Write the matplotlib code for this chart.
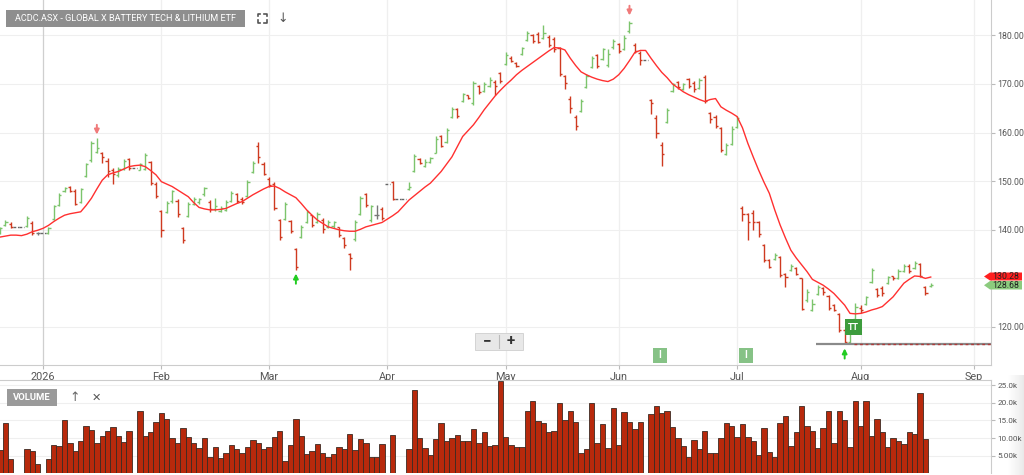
import numpy as np
import pandas as pd
import matplotlib
matplotlib.use("Agg")
import matplotlib.pyplot as plt
from matplotlib.patches import Polygon, Rectangle

plt.rcParams["font.family"] = ["Roboto", "DejaVu Sans"]

#########################################
### Data
#########################################
dates = pd.bdate_range("2025-12-22", "2026-08-20")  # weekdays, holidays have no volume

opens = [139.4, 140.9, 141.2, 140.6, 140.6, 140.8, 141.4, 139.3, 139.3, 139.4,
         142.3, 145.0, 148.0, 148.9, 148.0, 145.8, 151.0, 154.3, 156.0, 155.8,
         154.2, 152.2, 151.2, 152.5, 154.5, 152.7, 152.4, 152.6, 154.0, 149.4,
         143.8, 143.6, 145.9, 146.0, 140.4, 142.8, 145.4, 145.7, 147.3, 145.8,
         144.2, 143.9, 144.0, 146.0, 147.4, 146.3, 147.0, 151.9, 157.3, 153.6,
         150.5, 149.5, 142.0, 142.3, 141.8, 136.0, 138.6, 141.6, 143.0, 141.6,
         142.0, 140.6, 140.7, 140.5, 138.3, 135.0, 138.2, 143.2, 147.3, 142.0,
         143.0, 144.3, 149.4, 149.8, 146.3, 146.3, 148.3, 152.0, 154.6, 153.2,
         153.9, 155.9, 159.3, 158.0, 163.3, 164.8, 166.4, 167.7, 166.0, 169.5,
         168.6, 169.6, 170.4, 172.3, 174.1, 175.4, 174.3, 176.1, 179.0, 180.0,
         180.3, 179.4, 179.6, 179.2, 177.5, 171.6, 167.0, 163.2, 164.5, 169.4,
         173.4, 176.0, 175.1, 174.0, 177.6, 178.2, 177.2, 180.8, 178.1, 176.4,
         175.0, 166.7, 163.0, 157.5, 162.2, 168.5, 170.5, 169.0, 171.0, 170.2,
         169.2, 171.5, 164.0, 163.2, 160.9, 155.6, 157.6, 161.1, 144.4, 143.3,
         143.5, 141.5, 136.8, 133.7, 134.0, 134.3, 130.9, 131.8, 132.1, 130.0,
         125.5, 123.5, 126.8, 128.0, 126.4, 124.5, 122.7, 119.3, 117.0, 121.6,
         124.0, 124.7, 129.3, 127.9, 128.1, 129.0, 130.4, 130.1, 131.5, 132.6,
         132.2, 133.0, 128.2, 128.4]
highs = [140.6, 142.0, 141.5, 140.6, 140.6, 142.8, 141.8, 139.6, 139.3, 140.6,
         145.2, 147.5, 148.9, 149.1, 148.3, 148.7, 153.8, 158.2, 158.8, 156.1,
         154.8, 152.7, 153.0, 154.6, 154.8, 152.7, 153.8, 155.9, 154.2, 149.8,
         144.0, 146.0, 148.2, 146.3, 140.6, 145.8, 146.8, 146.6, 148.9, 146.1,
         146.5, 144.8, 146.1, 147.9, 147.6, 146.8, 150.3, 154.2, 158.1, 153.9,
         150.9, 149.8, 142.3, 145.8, 142.0, 136.3, 141.0, 144.1, 143.1, 143.7,
         142.4, 142.0, 141.9, 140.6, 138.6, 135.2, 142.0, 146.9, 147.6, 145.2,
         145.1, 144.7, 149.4, 150.0, 146.3, 146.3, 149.9, 155.5, 154.8, 154.6,
         155.0, 159.2, 159.5, 161.0, 165.2, 165.1, 168.2, 167.8, 170.7, 169.8,
         170.4, 171.5, 170.8, 172.5, 176.5, 175.7, 174.6, 177.7, 180.8, 180.2,
         180.6, 182.2, 180.0, 179.7, 177.7, 171.8, 167.5, 163.6, 166.9, 172.0,
         175.7, 176.2, 177.5, 177.2, 179.2, 178.5, 180.0, 183.0, 178.5, 176.7,
         175.0, 167.0, 163.6, 158.1, 165.0, 170.3, 170.7, 170.3, 171.3, 170.7,
         171.3, 171.9, 164.3, 163.6, 161.2, 157.9, 161.3, 163.4, 144.9, 143.5,
         144.0, 141.8, 137.0, 133.9, 135.2, 134.6, 131.1, 133.0, 132.3, 130.1,
         127.8, 125.8, 128.6, 128.3, 126.6, 124.7, 122.9, 119.5, 120.0, 125.0,
         124.5, 126.4, 132.2, 128.0, 128.4, 130.5, 130.5, 132.0, 132.9, 132.9,
         133.5, 133.2, 128.4, 129.0]
lows = [139.2, 140.7, 140.3, 140.6, 140.6, 140.6, 138.9, 139.0, 139.3, 139.2,
        142.0, 144.8, 147.7, 147.8, 145.0, 145.6, 150.8, 154.0, 155.8, 153.7,
        150.9, 149.4, 150.9, 152.3, 152.3, 152.7, 152.2, 152.3, 149.2, 146.5,
        138.5, 143.4, 145.6, 142.6, 137.3, 142.6, 145.2, 145.3, 147.0, 143.7,
        143.8, 143.6, 143.8, 145.8, 145.5, 145.3, 146.8, 151.7, 153.7, 151.3,
        148.8, 144.1, 138.0, 142.0, 139.3, 131.7, 138.4, 141.3, 140.6, 141.3,
        139.3, 140.3, 140.3, 138.5, 136.3, 131.7, 137.6, 143.0, 144.7, 141.6,
        142.2, 142.0, 149.4, 146.1, 146.3, 146.3, 148.1, 151.9, 153.5, 152.9,
        153.7, 155.7, 157.0, 157.8, 163.1, 163.0, 166.2, 167.0, 165.7, 168.0,
        168.4, 169.4, 167.8, 170.2, 173.9, 174.5, 173.4, 175.9, 178.8, 178.4,
        178.4, 179.2, 177.6, 176.6, 171.6, 169.0, 164.0, 160.5, 164.2, 169.2,
        173.2, 173.3, 174.9, 173.5, 177.3, 176.4, 177.0, 180.5, 176.3, 174.0,
        175.0, 163.8, 158.9, 153.1, 162.0, 168.3, 168.9, 168.8, 169.2, 168.4,
        169.0, 166.1, 161.9, 160.9, 156.1, 155.3, 157.4, 160.9, 141.8, 137.9,
        140.0, 138.5, 133.4, 132.1, 133.8, 130.3, 128.2, 131.6, 130.7, 123.5,
        125.2, 123.2, 126.6, 126.6, 123.5, 123.2, 119.0, 116.4, 116.7, 121.4,
        122.8, 124.5, 129.1, 126.2, 126.3, 128.9, 129.7, 129.9, 131.3, 131.1,
        132.0, 130.2, 126.6, 128.3]
closes = [140.4, 141.7, 140.6, 140.6, 140.6, 142.4, 139.3, 139.3, 139.3, 140.4,
          144.9, 147.2, 148.6, 148.0, 145.4, 148.4, 153.5, 157.8, 156.8, 155.0,
          152.0, 151.5, 152.6, 154.2, 152.7, 152.7, 153.5, 155.4, 149.6, 147.0,
          140.0, 145.6, 147.9, 143.2, 138.0, 145.4, 146.4, 146.3, 148.6, 144.3,
          144.8, 144.5, 145.8, 147.5, 145.9, 145.7, 149.8, 153.8, 155.0, 151.5,
          149.3, 144.5, 138.6, 145.3, 139.8, 132.3, 140.6, 143.6, 141.0, 143.3,
          140.1, 141.6, 141.5, 138.9, 136.8, 134.2, 141.6, 146.5, 145.2, 144.8,
          143.0, 142.5, 149.4, 146.3, 146.3, 146.3, 148.9, 155.2, 153.8, 154.0,
          154.7, 158.7, 157.3, 160.6, 164.8, 163.5, 167.9, 167.2, 170.3, 168.3,
          170.0, 170.9, 169.5, 170.6, 176.0, 174.8, 173.8, 177.4, 180.4, 178.8,
          178.6, 180.5, 178.0, 177.3, 172.0, 170.2, 165.0, 161.3, 166.5, 171.6,
          175.3, 173.7, 177.1, 176.2, 178.8, 176.8, 179.5, 182.5, 176.8, 175.0,
          175.0, 166.0, 160.0, 155.6, 164.7, 169.9, 169.3, 170.0, 169.6, 168.9,
          170.8, 166.6, 162.7, 161.4, 156.5, 157.4, 160.8, 162.9, 143.2, 141.6,
          141.5, 139.2, 133.7, 132.4, 134.9, 130.8, 130.3, 132.6, 131.0, 123.8,
          127.3, 124.8, 128.3, 127.2, 124.0, 123.5, 119.3, 117.0, 119.6, 124.2,
          123.4, 126.1, 131.8, 126.6, 126.9, 130.2, 130.0, 131.6, 132.5, 131.6,
          133.1, 130.5, 127.0, 128.68]
volumes = [6600, 14200, 4000, 0, 0, 6800, 6300, 2600, 0, 4000,
           8000, 7700, 15200, 8500, 6300, 9300, 13300, 12300, 8500, 10600,
           12100, 13100, 10600, 8900, 11900, 0, 17600, 10600, 11700, 14600,
           17000, 15300, 9900, 8700, 13000, 10200, 8700, 7100, 10100, 4500,
           7600, 4400, 5700, 7900, 6800, 5700, 7600, 9500, 8500, 6800,
           7600, 10200, 12100, 3600, 8000, 15300, 10700, 5600, 6300, 8200,
           5700, 4500, 5400, 7400, 7000, 11100, 6600, 9700, 8500, 4500,
           4700, 8300, 0, 10800, 0, 0, 6800, 23700, 10100, 7200,
           5100, 9700, 14400, 9200, 10000, 10800, 9200, 9300, 12500, 8500,
           11600, 7700, 8000, 26300, 10400, 8100, 7400, 7400, 17800, 20600,
           14800, 14200, 11600, 11900, 19900, 15200, 17600, 14500, 5900, 6800,
           20100, 8500, 14000, 7300, 18500, 8000, 17400, 14500, 12600, 14500,
           0, 16900, 19100, 17200, 17600, 13100, 10100, 7800, 4500, 9500,
           6800, 11900, 5900, 5700, 10000, 14200, 13500, 10200, 13900, 10200,
           9300, 5100, 12800, 6000, 4500, 14200, 16200, 7800, 11600, 19000,
           13500, 12100, 7300, 12800, 17600, 8500, 17800, 15000, 7600, 20600,
           13400, 20500, 10600, 15500, 11700, 7400, 9900, 9200, 8200, 11700,
           11200, 22900, 9700, 200]
ma = [138.5, 138.7, 138.9, 138.9, 138.8, 139.1, 139.6, 139.9, 140.3, 140.9,
      141.7, 142.4, 143.0, 143.3, 143.5, 143.7, 145.0, 146.5, 148.4, 150.2,
      151.3, 151.7, 152.0, 152.5, 153.0, 153.2, 153.3, 153.0, 152.2, 151.3,
      149.9, 149.4, 148.9, 148.2, 147.5, 146.8, 145.6, 144.6, 144.3, 144.1,
      144.1, 144.2, 144.4, 144.9, 145.4, 145.8, 146.5, 147.2, 147.8, 148.4,
      148.9, 149.0, 148.5, 147.8, 147.2, 146.6, 145.4, 144.1, 143.0, 142.0,
      141.3, 140.6, 140.3, 140.0, 139.8, 139.7, 139.7, 140.1, 140.6, 140.9,
      141.2, 141.5, 142.2, 142.9, 143.7, 144.9, 146.1, 147.0, 147.9, 148.8,
      149.6, 150.8, 152.0, 153.5, 155.0, 157.1, 159.2, 160.4, 161.6, 163.1,
      164.7, 166.1, 167.5, 168.7, 169.8, 170.8, 171.9, 172.8, 173.6, 174.4,
      175.2, 176.0, 176.8, 177.5, 177.4, 177.0, 175.3, 173.8, 172.5, 171.9,
      171.4, 171.0, 170.7, 170.5, 171.0, 171.9, 173.2, 174.8, 176.5, 176.9,
      176.9, 175.3, 173.8, 172.4, 171.3, 170.0, 169.2, 168.4, 167.8, 167.3,
      166.8, 166.4, 166.8, 167.0, 165.3, 164.6, 164.0, 163.3, 161.0, 157.8,
      155.0, 152.3, 149.8, 147.5, 144.1, 141.0, 138.3, 135.8, 134.2, 132.8,
      131.4, 129.8, 129.2, 128.6, 127.8, 126.9, 125.7, 124.5, 122.8, 122.7,
      122.8, 123.1, 123.5, 123.8, 124.2, 125.2, 126.2, 127.6, 129.0, 129.8,
      130.5, 130.4, 130.0, 130.28]
support = 116.4
month_labels = ["2026", "Feb", "Mar", "Apr", "May", "Jun", "Jul", "Aug", "Sep"]
price_ticks = [120, 130, 140, 150, 160, 170, 180]
vol_ticks = [5000, 10000, 15000, 20000, 25000]
vol_tick_labels = ["5.00k", "10.00k", "15.0k", "20.0k", "25.0k"]

GREEN = "#7cc46c"
RED = "#cf3a20"
GREY = "#777777"

#########################################
### Figure layout (pixel helpers)
#########################################
W, H = 1024, 475
fig = plt.figure(figsize=(W / 100, H / 100), dpi=100)


def fx(px):
    return px / W


def fy(py):
    return 1 - py / H


ax = fig.add_axes([0, fy(365), 991 / W, 365 / H])
axv = fig.add_axes([0, fy(473.3), 991 / W, (473.3 - 380) / H])

idx = np.arange(len(dates))
o, h, l, c = (np.array(a) for a in (opens, highs, lows, closes))
vol = np.array(volumes)
x_max = 991 / 5.38

# month starts (first weekday of each month)
ext = pd.bdate_range(dates[0], "2026-09-04")
first = [i for i in range(1, len(ext)) if ext[i].month != ext[i - 1].month]

#########################################
### Price panel
#########################################
ax.set_xlim(0, x_max)
ax.set_ylim(112.18, 187.28)
for p in price_ticks:
    ax.axhline(p, color="#efefef", lw=0.8, zorder=0)
for k, m in enumerate(first):
    ax.axvline(m, color="#cfcfcf" if k == 0 else "#efefef", lw=0.9, zorder=0)

closed = vol == 0
up = (c > o) & ~closed
down = (c < o) & ~closed
flat = (c == o) & ~closed
tw = 0.4
for mask, col in [(up, GREEN), (down, RED), (flat, GREY)]:
    ax.vlines(idx[mask], l[mask], h[mask], color=col, lw=1.0)
    ax.hlines(o[mask], idx[mask] - tw, idx[mask], color=col, lw=1.0)
    ax.hlines(c[mask], idx[mask], idx[mask] + tw, color=col, lw=1.0)
ax.hlines(c[closed], idx[closed] - 0.5, idx[closed] + 0.5, color="#666666",
          lw=1.0, linestyles=(0, (2, 1.2)))

ax.plot(idx, ma, color="#ff3030", lw=1.0, zorder=3)

# support level
ax.hlines(support, 816 / 5.38, x_max, color="#8a8a8a", lw=1.6, zorder=2)
ax.hlines(support, 854 / 5.38, x_max, color="#b03a3a", lw=1.0,
          linestyles=(0, (2, 2)), zorder=3)

# signal arrows
def arrow(i, tip, tail, col):
    ax.annotate("", xy=(i, tip), xytext=(i, tail),
                arrowprops=dict(arrowstyle="-|>", color=col, lw=1.4,
                                mutation_scale=7, shrinkA=0, shrinkB=0))


arrow(18, 159.6, 161.6, "#f07a7a")
arrow(117, 184.1, 186.1, "#f07a7a")
arrow(55, 131.0, 128.9, "#22cc22")
arrow(157, 115.6, 113.5, "#22cc22")

ax.yaxis.tick_right()
ax.set_yticks(price_ticks)
# the 130.00 label sits under the price tags
ax.set_yticklabels(["" if p == 130 else "%.2f" % p for p in price_ticks])
ax.set_xticks(first)
ax.set_xticklabels(month_labels)
ax.tick_params(axis="y", length=3, color="#bbbbbb", labelsize=6.3,
               labelcolor="#555555", pad=1.5)
ax.tick_params(axis="x", length=3, color="#bbbbbb", labelsize=7.8,
               labelcolor="#555555", pad=2)
for s in ("top", "left"):
    ax.spines[s].set_visible(False)
for s in ("right", "bottom"):
    ax.spines[s].set_color("#cccccc")
    ax.spines[s].set_linewidth(0.8)

#########################################
### Volume panel
#########################################
axv.set_xlim(0, x_max)
axv.set_ylim(0, 26500)
for v in vol_ticks:
    axv.axhline(v, color="#efefef", lw=0.8, zorder=0)
traded = vol > 0
axv.bar(idx[traded], vol[traded], width=1.0, color="#b8290c",
        edgecolor="#3b2a22", linewidth=0.6, zorder=2)
axv.yaxis.tick_right()
axv.set_yticks(vol_ticks)
axv.set_yticklabels(vol_tick_labels)
axv.set_xticks([])
axv.tick_params(axis="y", length=3, color="#bbbbbb", labelsize=5.9,
                labelcolor="#555555", pad=1.5)
for s in ("left", "bottom"):
    axv.spines[s].set_visible(False)
for s in ("right", "top"):
    axv.spines[s].set_color("#cccccc")
    axv.spines[s].set_linewidth(0.8)

# right-edge shading of the volume pane (behind the tick labels)
grad = fig.add_axes([fx(1008), fy(475), 16 / W, 100 / H])
grad.imshow(np.linspace(0, 1, 32)[None, :], cmap="Greys", vmin=0, vmax=6,
            aspect="auto")
grad.axis("off")
grad.set_zorder(-1)

#########################################
### Overlays (labels, tags, buttons)
#########################################
def rect(x0, y0, x1, y1, fc, ec="none", lw=0):
    fig.patches.append(Rectangle((fx(x0), fy(y1)), (x1 - x0) / W, (y1 - y0) / H,
                                 transform=fig.transFigure, fc=fc, ec=ec, lw=lw))


rect(6, 10, 245, 27, "#8e8e8e")
fig.text(fx(125.5), fy(18.8), "ACDC.ASX - GLOBAL X BATTERY TECH & LITHIUM ETF",
         ha="center", va="center", color="white", fontsize=6.6)

# fullscreen icon
cx, cy, r, a = 262, 18, 4.5, 2.5
for sx in (-1, 1):
    for sy in (-1, 1):
        xs = [cx + sx * r, cx + sx * r, cx + sx * (r - a)]
        ys = [cy + sy * (r - a), cy + sy * r, cy + sy * r]
        fig.lines.append(plt.Line2D([fx(v) for v in xs], [fy(v) for v in ys],
                                    transform=fig.transFigure, color="#555555", lw=1.2))
fig.text(fx(283), fy(18), "↓", ha="center", va="center", color="#555555", fontsize=9)

# zoom control
rect(475, 333, 523, 350, "#e8e8e8", ec="#cfcfcf", lw=0.6)
fig.lines.append(plt.Line2D([fx(499), fx(499)], [fy(335), fy(348)],
                            transform=fig.transFigure, color="#bbbbbb", lw=0.8))
fig.text(fx(487), fy(341.5), "−", ha="center", va="center", color="#333333",
         fontsize=11, weight="bold")
fig.text(fx(511), fy(341.5), "+", ha="center", va="center", color="#333333",
         fontsize=11, weight="bold")

# TT and I markers
rect(845, 319, 862, 335, "#3d9c3d")
fig.text(fx(853.5), fy(327.3), "TT", ha="center", va="center", color="white",
         fontsize=6.5, weight="bold")
for px in (660, 746):
    rect(px - 7, 348, px + 7, 363, "#86c286")
    fig.text(fx(px), fy(355.5), "I", ha="center", va="center", color="white",
             fontsize=7, weight="bold")

# price tags
for y0, y1, fc, txt in ((272.5, 280.5, "#ff1f1f", "130.28"),
                        (281.0, 289.5, "#8ccb7e", "128.68")):
    ym = (y0 + y1) / 2
    pts = [(984, ym), (990, y0), (1022, y0), (1022, y1), (990, y1)]
    fig.patches.append(Polygon([(fx(px), fy(py)) for px, py in pts], closed=True,
                               transform=fig.transFigure, fc=fc, ec="none"))
    fig.text(fx(1006), fy(ym + 0.3), txt, ha="center", va="center",
             color="#222222", fontsize=6.3)

# volume label
rect(7, 389, 57, 406, "#9a9a9a")
fig.text(fx(32), fy(397.5), "VOLUME", ha="center", va="center", color="white",
         fontsize=6.8, weight="bold")
fig.text(fx(75), fy(397.5), "↑", ha="center", va="center", color="#666666", fontsize=9)
fig.text(fx(96), fy(397.5), "✕", ha="center", va="center", color="#555555", fontsize=8)

plt.savefig("out.png", dpi=100)
